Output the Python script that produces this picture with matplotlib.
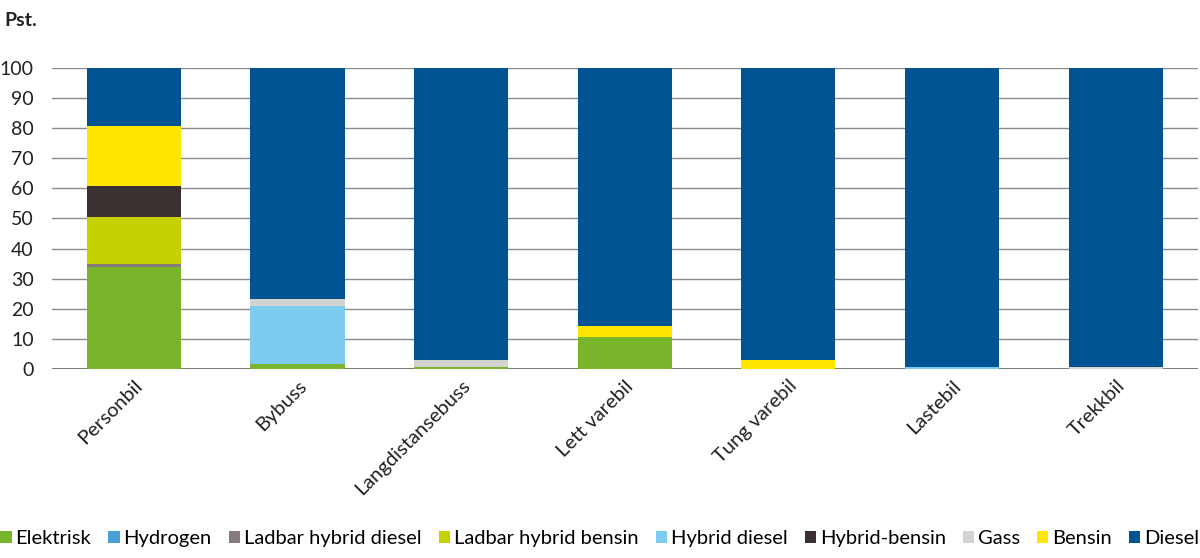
import matplotlib
matplotlib.use("Agg")
import matplotlib.pyplot as plt
import numpy as np

categories = ["Personbil", "Bybuss", "Langdistansebuss", "Lett varebil", "Tung varebil", "Lastebil", "Trekkbil"]
series_names = ["Elektrisk", "Hydrogen", "Ladbar hybrid diesel", "Ladbar hybrid bensin",
                "Hybrid diesel", "Hybrid-bensin", "Gass", "Bensin", "Diesel"]
elektrisk = [34.0, 1.6, 0.7, 10.5, 0.0, 0.0, 0.0]
hydrogen = [0.0, 0.0, 0.0, 0.0, 0.0, 0.0, 0.0]
ladbar_hybrid_diesel = [1.0, 0.0, 0.0, 0.0, 0.0, 0.0, 0.0]
ladbar_hybrid_bensin = [15.5, 0.0, 0.0, 0.0, 0.0, 0.0, 0.0]
hybrid_diesel = [0.0, 19.2, 0.0, 0.0, 0.0, 0.6, 0.0]
hybrid_bensin = [10.2, 0.0, 0.0, 0.0, 0.0, 0.0, 0.0]
gass = [0.0, 2.4, 2.2, 0.0, 0.0, 0.0, 0.6]
bensin = [20.0, 0.0, 0.0, 3.6, 2.8, 0.0, 0.0]
diesel = [19.3, 76.8, 97.1, 85.9, 97.2, 99.4, 99.4]

colors = ["#78b52a", "#4a9fd5", "#857b7b", "#c5d100", "#7ecbf0", "#3a3030", "#d4d3cf", "#ffe600", "#005494"]
series = [elektrisk, hydrogen, ladbar_hybrid_diesel, ladbar_hybrid_bensin, hybrid_diesel,
          hybrid_bensin, gass, bensin, diesel]

plt.rcParams['font.family'] = ['Lato', 'DejaVu Sans']
fig = plt.figure(figsize=(12, 5.58), dpi=100)
ax = fig.add_axes([0.0433, 0.339, 0.9547, 0.539])

x = np.arange(len(categories))
bottom = np.zeros(len(categories))
handles = []
for name, vals, c in zip(series_names, series, colors):
    vals = np.array(vals)
    b = ax.bar(x, vals, bottom=bottom, width=0.575, color=c, label=name, zorder=3, linewidth=0)
    bottom += vals
    handles.append(b)

ax.set_xlim(-0.5, 6.5)
ax.set_ylim(0, 100)
ax.set_yticks(np.arange(0, 101, 10))
ax.yaxis.grid(True, color="#8c8c8c", linewidth=1.0, zorder=0)
ax.set_axisbelow(True)
for s in ax.spines.values():
    s.set_visible(False)
ax.tick_params(axis='y', length=0, pad=13, labelsize=14, colors="#222222")
ax.tick_params(axis='x', length=0, pad=6)
ax.set_xticks(x)
ax.set_xticklabels(categories, rotation=45, ha='right', va='top', rotation_mode='anchor',
                   fontsize=14.5, color="#222222")
ax.axhline(0, color="#666666", linewidth=1.2, zorder=2)

fig.text(0.004, 0.963, "Pst.", fontsize=14, fontweight='bold', ha='left', va='center', color="#222222")

fig.legend(handles=handles, labels=series_names, loc='lower center', ncol=9,
           bbox_to_anchor=(0.5, 0.02), frameon=False, fontsize=14.5, handlelength=0.55,
           handleheight=0.55, handletextpad=0.2, columnspacing=0.85, borderaxespad=0,
           borderpad=0)

fig.savefig("out.png", dpi=100)
